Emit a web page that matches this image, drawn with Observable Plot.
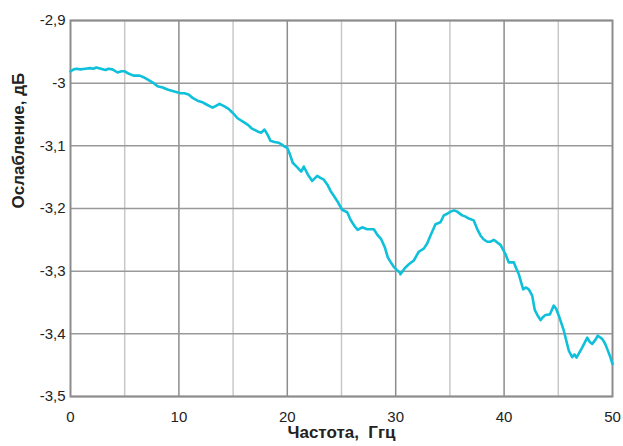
<!DOCTYPE html>
<html>
<head>
<meta charset="utf-8">
<script src="https://cdn.jsdelivr.net/npm/d3@7"></script>
<script src="https://cdn.jsdelivr.net/npm/@observablehq/plot@0.6"></script>
<style>
  html, body { margin: 0; padding: 0; background: #fff; }
  #chart { width: 623px; height: 446px; }
</style>
</head>
<body>
<div id="chart"></div>
<script>
// Frequency, GHz
const freq = [
  0, 0.3, 0.55, 0.9, 1.38, 1.8, 2.1, 2.4, 2.8, 3.23, 3.5, 3.87, 4.34, 4.7, 4.98, 5.4, 5.81, 6.37, 6.8, 7.1,
  7.6, 8.03, 8.5, 8.95, 9.5, 10.15, 10.5, 10.89, 11.3, 11.72, 12.1, 12.55, 13.1, 13.45, 13.75, 14.2, 14.58,
  15.0, 15.41, 16.05, 16.4, 16.7, 17.25, 17.6, 17.9, 18.2, 18.45, 18.8, 19.19, 19.5, 19.74, 19.99,
  20.25, 20.5, 20.9, 21.28, 21.52, 21.9, 22.3, 22.76, 23.05, 23.37, 23.7, 23.99, 24.3, 24.6, 25.06,
  25.53, 25.83, 26.2, 26.5, 26.9, 27.37, 27.98, 28.35, 28.66, 29.0, 29.27, 29.55, 29.82, 30.1, 30.38, 30.44,
  30.8, 31.21, 31.67, 32.13, 32.59, 32.9, 33.21, 33.67, 34.13, 34.44, 34.8, 35.06, 35.4, 35.67, 36.13,
  36.45, 36.74, 37.2, 37.5, 37.82, 38.1, 38.44, 38.75, 39.05, 39.35, 39.67, 40.13, 40.43, 40.9, 41.1,
  41.36, 41.76, 42.0, 42.28, 42.59, 42.83, 43.1, 43.36, 43.6, 43.82, 44.22, 44.58, 44.8, 45.05, 45.51,
  45.97, 46.28, 46.5, 46.68, 47.2, 47.67, 47.9, 48.13, 48.4, 48.64, 49.05, 49.3, 49.51, 49.8, 50.0
];
// Attenuation, dB
const atten = [
  -2.981, -2.978, -2.977, -2.978, -2.977, -2.976, -2.977, -2.975, -2.977, -2.979, -2.977, -2.978, -2.983, -2.981, -2.981, -2.985, -2.988, -2.988, -2.991, -2.994,
  -2.999, -3.005, -3.007, -3.010, -3.013, -3.016, -3.016, -3.018, -3.024, -3.028, -3.030, -3.034, -3.039, -3.036, -3.033, -3.037, -3.041,
  -3.048, -3.056, -3.063, -3.067, -3.072, -3.077, -3.079, -3.074, -3.083, -3.092, -3.094, -3.095, -3.098, -3.101, -3.103,
  -3.114, -3.127, -3.134, -3.141, -3.133, -3.146, -3.156, -3.148, -3.151, -3.154, -3.162, -3.172, -3.180, -3.188, -3.202,
  -3.206, -3.218, -3.228, -3.234, -3.230, -3.233, -3.233, -3.243, -3.249, -3.262, -3.278, -3.286, -3.293, -3.298, -3.302, -3.305,
  -3.296, -3.289, -3.283, -3.269, -3.264, -3.256, -3.243, -3.225, -3.222, -3.211, -3.208, -3.205, -3.203, -3.205, -3.211,
  -3.213, -3.216, -3.219, -3.232, -3.243, -3.249, -3.253, -3.253, -3.250, -3.254, -3.258, -3.273, -3.286, -3.286, -3.295,
  -3.305, -3.329, -3.326, -3.329, -3.339, -3.362, -3.371, -3.378, -3.373, -3.370, -3.369, -3.355, -3.360, -3.371, -3.395,
  -3.427, -3.437, -3.433, -3.438, -3.422, -3.406, -3.413, -3.416, -3.410, -3.403, -3.408, -3.415, -3.424, -3.437, -3.448
];
const xTicks = [0, 10, 20, 30, 40, 50];
const xMinorGrid = [5, 15, 25, 35, 45];
const xMajorGrid = [10, 20, 30, 40];
const yTicks = [-2.9, -3.0, -3.1, -3.2, -3.3, -3.4, -3.5];
const xLabel = "Частота,  Ггц";
const yLabel = "Ослабление, дБ";

const data = freq.map((f, i) => ({f, a: atten[i]}));
const fmt = d => String(d).replace(".", ",");

const chart = Plot.plot({
  width: 623,
  height: 446,
  marginLeft: 70,
  marginRight: 11,
  marginTop: 20,
  marginBottom: 50,
  style: {fontFamily: "'Liberation Sans', Arial, sans-serif", fontSize: "15px", color: "#222", background: "#fff"},
  x: {domain: [0, 50]},
  y: {domain: [-3.5, -2.9]},
  marks: [
    Plot.ruleX(xMinorGrid, {stroke: "#c8c8c8", strokeWidth: 1.5}),
    Plot.ruleX(xMajorGrid, {stroke: "#8c8c8c", strokeWidth: 1.5}),
    Plot.ruleY(yTicks, {stroke: "#999", strokeWidth: 1.5}),
    Plot.frame({stroke: "#8c8c8c", strokeWidth: 2}),
    Plot.axisX({ticks: xTicks, tickSize: 0, tickPadding: 15, tickFormat: fmt, label: null, fontSize: 15}),
    Plot.axisY({ticks: yTicks, tickSize: 0, tickPadding: 5, tickFormat: fmt, label: null, fontSize: 15}),
    Plot.line(data, {x: "f", y: "a", stroke: "#0fc0da", strokeWidth: 2.6, strokeLinejoin: "round"}),
    Plot.text([xLabel], {frameAnchor: "bottom", dy: 41, fontWeight: "bold", fontSize: 17, fill: "#222", text: d => d}),
    Plot.text([yLabel], {frameAnchor: "left", dx: -52, rotate: -90, fontWeight: "bold", fontSize: 17, fill: "#222", text: d => d})
  ]
});
document.getElementById("chart").appendChild(chart);
</script>
</body>
</html>
